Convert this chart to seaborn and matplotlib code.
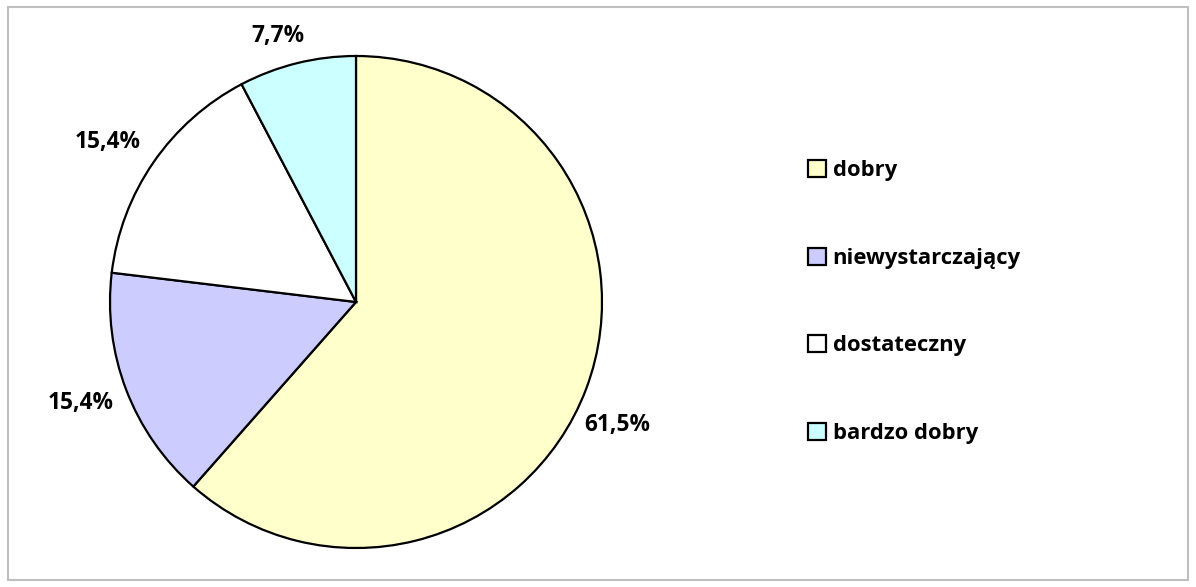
import matplotlib
matplotlib.use("Agg")
import matplotlib.pyplot as plt
from matplotlib.patches import Rectangle
import numpy as np
import seaborn as sns

sns.set_style("white")
plt.rcParams['font.family'] = ['Open Sans', 'DejaVu Sans']
plt.rcParams['text.color'] = 'black'

categories = ["dobry", "niewystarczający", "dostateczny", "bardzo dobry"]
values = [61.5, 15.4, 15.4, 7.7]
pct_labels = ["61,5%", "15,4%", "15,4%", "7,7%"]
colors = ["#FFFFCC", "#CCCCFF", "#FFFFFF", "#CCFFFF"]
# label anchor points (in pie-radius units), as placed in the original
label_pos = [(1.061, -0.50), (-1.118, -0.411), (-1.008, 0.650), (-0.317, 1.081)]

fig = plt.figure(figsize=(11.96, 5.87), dpi=100)
W, H = 1196, 587
cx, cy, r = 356, 302, 246
half = 252
ax = fig.add_axes([(cx - half) / W, (H - cy - half) / H, 2 * half / W, 2 * half / H])

wedges, texts = ax.pie(values, colors=colors, startangle=90, counterclock=False,
                       labels=pct_labels, labeldistance=1.1,
                       wedgeprops=dict(edgecolor="black", linewidth=1.6),
                       textprops=dict(fontsize=16.3, fontweight="bold", color="black"))
for t, p in zip(texts, label_pos):
    t.set_position(p)
    t.set_ha("center")
    t.set_va("center")
lim = half / r
ax.set_xlim(-lim, lim)
ax.set_ylim(-lim, lim)
ax.set_aspect("equal")
ax.axis("off")

leg = fig.legend(wedges, categories, loc="center left",
                 bbox_to_anchor=(808 / W, 1 - 302 / H),
                 frameon=False, prop=dict(weight="bold", size=15.8),
                 labelspacing=3.03, handlelength=0.82, handleheight=0.82,
                 handletextpad=0.3, borderpad=0, borderaxespad=0)
for h in leg.legend_handles:
    h.set_linewidth(1.6)
for t in leg.get_texts():
    t.set_color("black")

fig.patches.append(Rectangle((8 / W, 1 - 580 / H), 1180 / W, 573 / H,
                             transform=fig.transFigure, fill=False,
                             edgecolor="#BFBFBF", linewidth=1.5))

fig.savefig("out.png", dpi=100)
